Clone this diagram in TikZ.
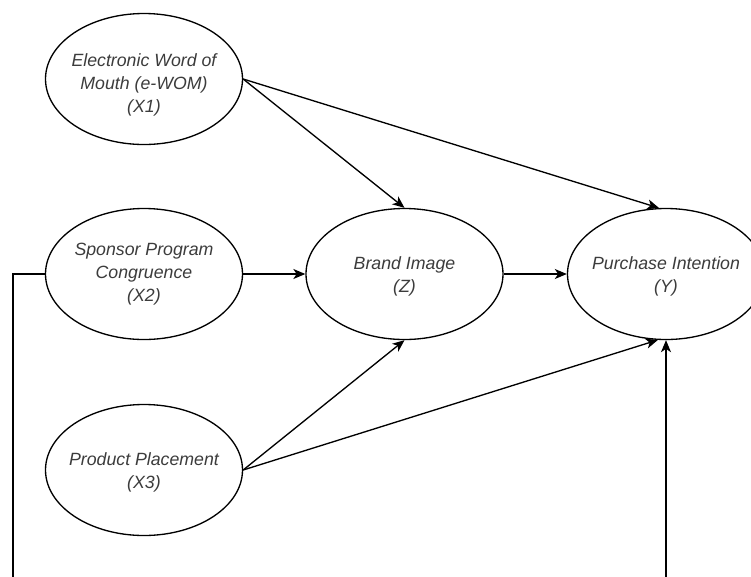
\documentclass[tikz,border=0pt]{standalone}
\usepackage{fontspec}
\setmainfont{Liberation Sans}
\usetikzlibrary{arrows.meta,shapes.geometric}
\definecolor{txtgray}{RGB}{60,60,60}
\tikzset{
  var/.style={ellipse, draw=black, line width=1pt, fill=white, inner sep=0pt,
    minimum width=147.75pt, minimum height=98.25pt},
  txt/.style={align=center, inner sep=0pt,
    font=\fontsize{13.3}{17.3}\selectfont\itshape, text=txtgray},
  arr/.style={draw=black, line width=1pt,
    -{Stealth[length=9pt,width=7.5pt,inset=2.5pt]}},
}
\begin{document}
\begin{tikzpicture}[x=0.75pt,y=-0.75pt]
\useasboundingbox (0,0) rectangle (751,576);
\clip (0,0) rectangle (751,576);
\fill[white] (0,0) rectangle (751,576);

\node[var, label={[txt, yshift=-4.5pt]center:Electronic Word of\\Mouth (e-WOM)\\(X1)}] (X1) at (144,79) {};
\node[var, label={[txt]center:Sponsor Program\\Congruence\\(X2)}] (X2) at (144,274) {};
\node[var, label={[txt, yshift=-1.5pt]center:Product Placement\\(X3)}] (X3) at (144,470) {};
\node[var, label={[txt, yshift=-1.5pt]center:Brand Image\\(Z)}] (Z) at (404.5,274) {};
\node[var, label={[txt, yshift=-1.5pt]center:Purchase Intention\\(Y)}] (Y) at (666,274) {};

\coordinate (c1) at (13,274);
\coordinate (c2) at (13,600);

\draw[arr] (X1.east) -- (Z.north);
\draw[arr] (X1.east) -- (Y.96);
\draw[arr] (X2.east) -- (Z.west);
\draw[arr] (Z.east) -- (Y.west);
\draw[arr] (X3.east) -- (Z.south);
\draw[arr] (X3.east) -- (Y.263);
\draw[arr] (X2.west) -- (c1) -- (c2) -| (Y.south);
\end{tikzpicture}
\end{document}
